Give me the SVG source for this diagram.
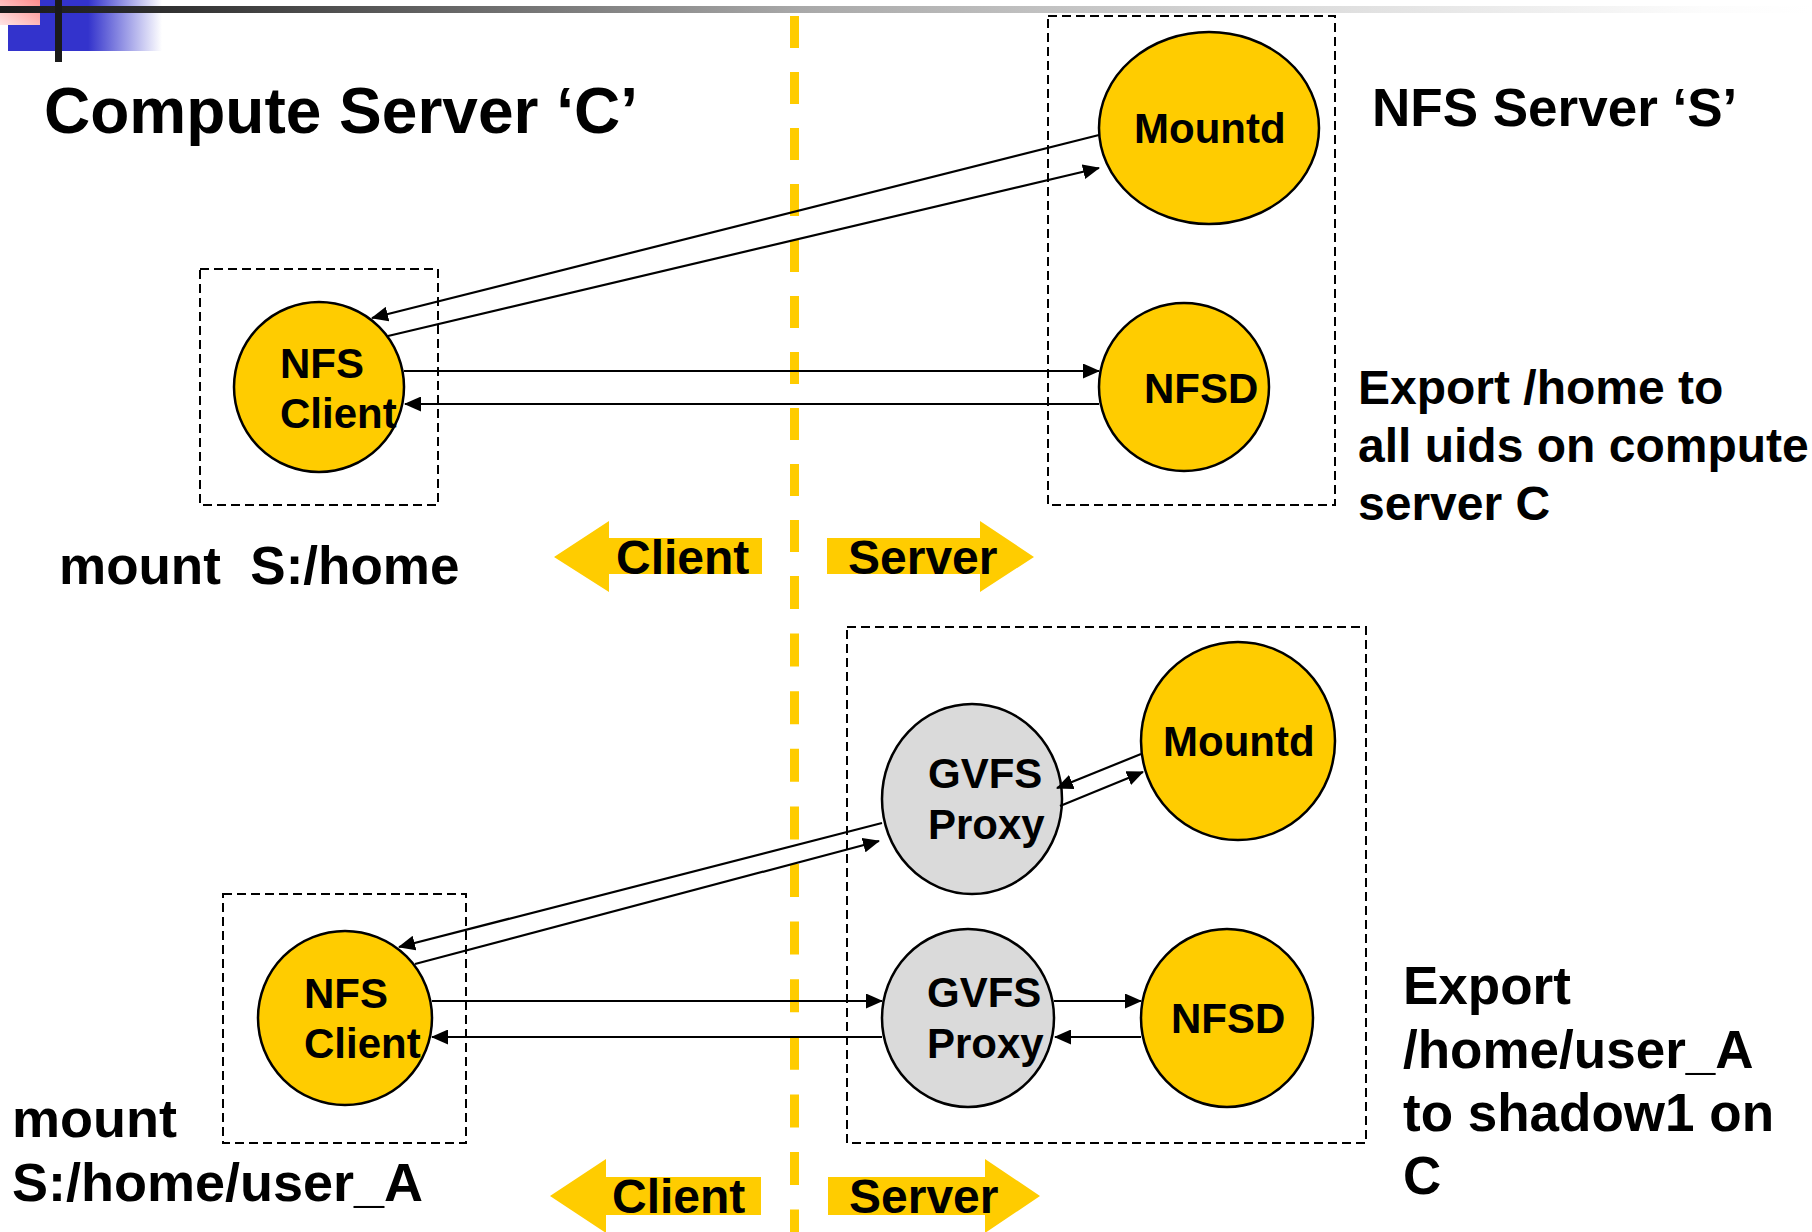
<svg xmlns="http://www.w3.org/2000/svg" width="1812" height="1232" viewBox="0 0 1812 1232">
<defs>
<linearGradient id="hline" gradientUnits="userSpaceOnUse" x1="0" y1="0" x2="1812" y2="0">
<stop offset="0" stop-color="#1a1a1a"/>
<stop offset="0.06" stop-color="#262626"/>
<stop offset="0.44" stop-color="#a8a8a8"/>
<stop offset="0.72" stop-color="#dcdcdc"/>
<stop offset="0.94" stop-color="#fcfcfc"/>
<stop offset="1" stop-color="#ffffff"/>
</linearGradient>
<linearGradient id="blue" gradientUnits="userSpaceOnUse" x1="8" y1="0" x2="162" y2="0">
<stop offset="0" stop-color="#3333cc"/>
<stop offset="0.52" stop-color="#3333cc"/>
<stop offset="1" stop-color="#ffffff"/>
</linearGradient>
<linearGradient id="pink" x1="1" y1="0" x2="0" y2="1">
<stop offset="0" stop-color="#ff8c8c"/>
<stop offset="1" stop-color="#ffe4e4"/>
</linearGradient>
<marker id="ah" markerUnits="userSpaceOnUse" markerWidth="17" markerHeight="15" refX="16" refY="7.5" orient="auto">
<path d="M0,0 L17,7.5 L0,15 z" fill="#000"/>
</marker>
<style>
text{font-family:"Liberation Sans",Arial,sans-serif;font-weight:bold;fill:#000}
.box{fill:none;stroke:#000;stroke-width:2;stroke-dasharray:9 5}
.y{fill:#ffcc00;stroke:#000;stroke-width:2.5}
.g{fill:#dadada;stroke:#000;stroke-width:2.5}
.c line{stroke:#000;stroke-width:2.2;fill:none;marker-end:url(#ah)}
.big{fill:#ffcc00}
.lbl{font-size:42px}
</style>
</defs>
<rect width="1812" height="1232" fill="#fff"/>

<!-- top-left decoration -->
<rect x="8" y="0" width="154" height="51" fill="url(#blue)"/>
<rect x="0" y="0" width="40" height="25" fill="url(#pink)"/>
<rect x="0" y="6" width="1812" height="7" fill="url(#hline)"/>
<rect x="55" y="0" width="7" height="62" fill="#1a1a1a"/>

<!-- yellow divider -->
<line x1="794.5" y1="16" x2="794.5" y2="576" stroke="#ffcc00" stroke-width="9" stroke-dasharray="32 24"/>
<line x1="794.5" y1="576" x2="794.5" y2="1232" stroke="#ffcc00" stroke-width="9" stroke-dasharray="33 24.6"/>

<!-- titles and notes -->
<text x="44" y="133" font-size="64">Compute Server ‘C’</text>
<text x="1372" y="126" font-size="53">NFS Server ‘S’</text>
<text font-size="48"><tspan x="1358" y="404">Export /home to</tspan><tspan x="1358" y="462">all uids on compute</tspan><tspan x="1358" y="520">server C</tspan></text>
<text x="59" y="584" font-size="53" xml:space="preserve">mount  S:/home</text>
<text font-size="54"><tspan x="12" y="1137">mount</tspan><tspan x="12" y="1201">S:/home/user_A</tspan></text>
<text font-size="53"><tspan x="1403" y="1004">Export</tspan><tspan x="1403" y="1068">/home/user_A</tspan><tspan x="1403" y="1131">to shadow1 on</tspan><tspan x="1403" y="1194">C</tspan></text>

<!-- dashed boxes -->
<rect class="box" x="1048" y="16" width="287" height="489"/>
<rect class="box" x="200" y="269" width="238" height="236"/>
<rect class="box" x="847" y="627" width="519" height="516"/>
<rect class="box" x="223" y="894" width="243" height="249"/>

<!-- client/server big arrows -->
<g id="client-arrow-top">
<polygon class="big" points="554,557 609,521 609,538 762,538 762,574 609,574 609,592"/>
<text x="616" y="574" font-size="48">Client</text>
</g>
<g id="server-arrow-top">
<polygon class="big" points="827,538 980,538 980,521 1034,557 980,592 980,574 827,574"/>
<text x="848" y="574" font-size="48">Server</text>
</g>
<g id="client-arrow-bottom">
<polygon class="big" points="550,1196 606,1159 606,1177 761,1177 761,1215 606,1215 606,1233"/>
<text x="612" y="1213" font-size="48">Client</text>
</g>
<g id="server-arrow-bottom">
<polygon class="big" points="828,1177 985,1177 985,1159 1040,1196 985,1233 985,1215 828,1215"/>
<text x="849" y="1213" font-size="48">Server</text>
</g>

<!-- nodes, top -->
<g id="mountd-top">
<ellipse class="y" cx="1209" cy="128" rx="110" ry="96"/>
<text class="lbl" x="1134" y="143">Mountd</text>
</g>
<g id="nfsd-top">
<ellipse class="y" cx="1184" cy="387" rx="85" ry="84"/>
<text class="lbl" x="1144" y="403">NFSD</text>
</g>
<g id="nfsclient-top">
<circle class="y" cx="319" cy="387" r="85"/>
<text class="lbl"><tspan x="280" y="378">NFS</tspan><tspan x="280" y="428">Client</tspan></text>
</g>

<!-- nodes, bottom -->
<g id="gvfs-top">
<ellipse class="g" cx="972" cy="799" rx="90" ry="95"/>
<text class="lbl"><tspan x="928" y="788">GVFS</tspan><tspan x="928" y="839">Proxy</tspan></text>
</g>
<g id="mountd-bottom">
<ellipse class="y" cx="1238" cy="741" rx="97" ry="99"/>
<text class="lbl" x="1163" y="756">Mountd</text>
</g>
<g id="gvfs-bottom">
<ellipse class="g" cx="968" cy="1018" rx="86" ry="89"/>
<text class="lbl"><tspan x="927" y="1007">GVFS</tspan><tspan x="927" y="1058">Proxy</tspan></text>
</g>
<g id="nfsd-bottom">
<ellipse class="y" cx="1227" cy="1018" rx="86" ry="89"/>
<text class="lbl" x="1171" y="1033">NFSD</text>
</g>
<g id="nfsclient-bottom">
<circle class="y" cx="345" cy="1018" r="87"/>
<text class="lbl"><tspan x="304" y="1008">NFS</tspan><tspan x="304" y="1058">Client</tspan></text>
</g>

<!-- connectors -->
<g id="connectors" class="c">
<line x1="1099" y1="135" x2="372" y2="318"/>
<line x1="388" y1="336" x2="1099" y2="168"/>
<line x1="404" y1="371" x2="1099" y2="371"/>
<line x1="1099" y1="404" x2="405" y2="404"/>
<line x1="882" y1="823" x2="399" y2="947"/>
<line x1="415" y1="964" x2="879" y2="841"/>
<line x1="1141" y1="754" x2="1057" y2="788"/>
<line x1="1060" y1="806" x2="1143" y2="772"/>
<line x1="432" y1="1001" x2="882" y2="1001"/>
<line x1="882" y1="1037" x2="432" y2="1037"/>
<line x1="1054" y1="1001" x2="1141" y2="1001"/>
<line x1="1141" y1="1037" x2="1055" y2="1037"/>
</g>
</svg>
